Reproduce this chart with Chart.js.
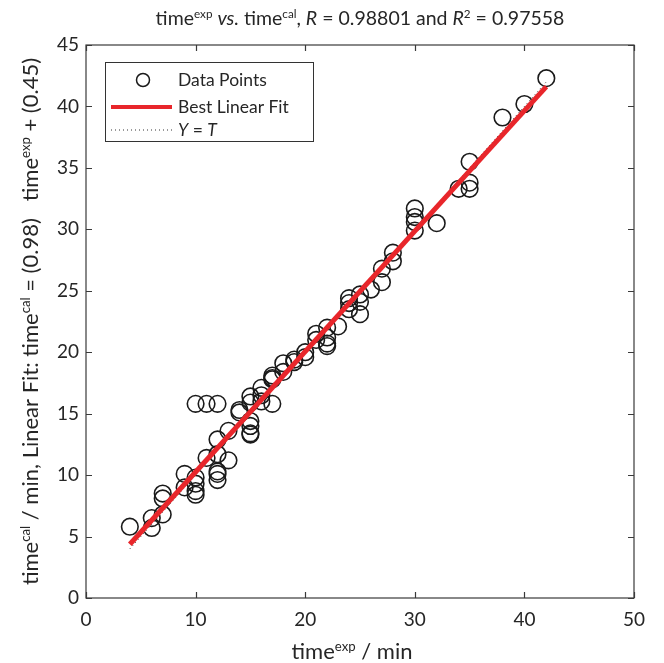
<!DOCTYPE html>
<html>
<head>
<meta charset="utf-8">
<script src="https://cdn.jsdelivr.net/npm/chart.js@4/dist/chart.umd.min.js"></script>
<style>
html,body{margin:0;padding:0;background:#fff;}
#wrap{width:664px;height:663px;}
</style>
</head>
<body>
<div id="wrap"><canvas id="c" width="664" height="663"></canvas></div>
<script>
// ---- data ----
const timeExp = [4, 6, 6, 7, 7, 7, 9, 9, 10, 10, 10, 10, 10,
  11, 11, 12, 12, 12, 12, 12, 12, 13, 13, 14, 14,
  15, 15, 15, 15, 15, 15, 16, 16, 16, 17, 17, 17, 17,
  18, 18, 19, 19, 20, 20, 21, 21, 22, 22, 22, 22, 23,
  24, 24, 24, 25, 25, 25, 26, 27, 27, 28, 28,
  30, 30, 30, 30, 32, 34, 35, 35, 35, 38, 40, 42];
const timeCal = [5.8, 6.5, 5.7, 6.8, 8.5, 8.1, 10.1, 9.0, 15.8, 9.8, 9.3, 8.7, 8.4,
  15.8, 11.4, 15.8, 12.9, 11.7, 10.3, 10.1, 9.6, 13.6, 11.2, 15.3, 15.1,
  16.4, 15.9, 14.4, 14.0, 13.4, 13.3, 17.1, 16.5, 16.0, 18.1, 17.9, 17.8, 15.8,
  19.1, 18.4, 19.4, 19.2, 20.0, 19.6, 21.5, 21.0, 22.0, 21.2, 20.7, 20.5, 22.1,
  24.4, 24.0, 23.5, 24.7, 24.1, 23.1, 25.1, 26.8, 25.7, 28.1, 27.4,
  31.7, 31.0, 30.6, 29.9, 30.5, 33.3, 35.5, 33.8, 33.3, 39.1, 40.2, 42.3];
const fitSlope = 0.98;
const fitIntercept = 0.45;
const R = 0.98801;
const R2 = 0.97558;
const xTicks = [0, 10, 20, 30, 40, 50];
const yTicks = [0, 5, 10, 15, 20, 25, 30, 35, 40, 45];
const legendLabels = ['Data Points', 'Best Linear Fit', 'Y = T'];

// ---- derived ----
const points = timeExp.map((x, i) => ({x: x, y: timeCal[i]}));
const xMin = Math.min(...timeExp), xMax = Math.max(...timeExp);
const fitLine = [xMin, xMax].map(x => ({x: x, y: fitSlope * x + fitIntercept}));
const idLine = [xMin, xMax].map(x => ({x: x, y: x}));

const FONT = 'Lato, "Open Sans", sans-serif';
const TXT = '#262626';
const RED = '#e8262b';

function runFont(r, size) {
  const s = r.sup ? size * 0.6 : size;
  return (r.it ? 'italic ' : '') + s + 'px ' + FONT;
}
function runsWidth(ctx, runs, size) {
  let w = 0;
  runs.forEach(r => { ctx.font = runFont(r, size); w += ctx.measureText(r.t).width; });
  return w;
}
function drawRuns(ctx, runs, x, y, size, align) {
  const w = runsWidth(ctx, runs, size);
  let cx = align === 'center' ? x - w / 2 : x;
  ctx.textBaseline = 'alphabetic';
  ctx.textAlign = 'left';
  runs.forEach(r => {
    ctx.font = runFont(r, size);
    ctx.fillText(r.t, cx, r.sup ? y - size * 0.38 : y);
    cx += ctx.measureText(r.t).width;
  });
}

const decor = {
  id: 'decor',
  afterDatasetsDraw(chart) {
    const ctx = chart.ctx;
    const a = chart.chartArea;
    const xs = chart.scales.x, ys = chart.scales.y;
    ctx.save();
    // frame
    ctx.strokeStyle = '#3a3a3a';
    ctx.lineWidth = 1.2;
    ctx.strokeRect(a.left, a.top, a.right - a.left, a.bottom - a.top);
    // inward ticks
    const tl = 6;
    ctx.beginPath();
    xTicks.forEach(v => {
      const px = Math.round(xs.getPixelForValue(v)) + 0.5;
      ctx.moveTo(px, a.bottom); ctx.lineTo(px, a.bottom - tl);
      ctx.moveTo(px, a.top); ctx.lineTo(px, a.top + tl);
    });
    yTicks.forEach(v => {
      const py = Math.round(ys.getPixelForValue(v)) + 0.5;
      ctx.moveTo(a.left, py); ctx.lineTo(a.left + tl, py);
      ctx.moveTo(a.right, py); ctx.lineTo(a.right - tl, py);
    });
    ctx.stroke();

    // legend
    const lx = a.left + 19, ly = a.top + 17, lw = 208, lh = 79;
    ctx.fillStyle = '#fff';
    ctx.fillRect(lx, ly, lw, lh);
    ctx.strokeStyle = '#333';
    ctx.lineWidth = 1;
    ctx.strokeRect(lx + 0.5, ly + 0.5, lw, lh);
    const rows = [ly + 18, ly + 45, ly + 68];
    // marker
    ctx.beginPath();
    ctx.arc(lx + 38, rows[0], 6.5, 0, Math.PI * 2);
    ctx.strokeStyle = '#1a1a1a'; ctx.lineWidth = 1.5; ctx.stroke();
    // red line
    ctx.beginPath();
    ctx.moveTo(lx + 6, rows[1]); ctx.lineTo(lx + 67, rows[1]);
    ctx.strokeStyle = RED; ctx.lineWidth = 4; ctx.stroke();
    // dotted
    ctx.beginPath();
    ctx.setLineDash([1, 3]);
    ctx.moveTo(lx + 6, rows[2]); ctx.lineTo(lx + 67, rows[2]);
    ctx.strokeStyle = '#333'; ctx.lineWidth = 1; ctx.stroke();
    ctx.setLineDash([]);
    ctx.fillStyle = TXT;
    const lf = 17.5;
    drawRuns(ctx, [{t: legendLabels[0]}], lx + 73, rows[0] + 6, lf, 'left');
    drawRuns(ctx, [{t: legendLabels[1]}], lx + 73, rows[1] + 6, lf, 'left');
    drawRuns(ctx, [{t: 'Y', it: true}, {t: ' = '}, {t: 'T', it: true}], lx + 73, rows[2] + 6, lf, 'left');

    // title
    const ts = 19.5;
    drawRuns(ctx, [
      {t: 'time'}, {t: 'exp', sup: true}, {t: ' '}, {t: 'vs.', it: true}, {t: ' time'}, {t: 'cal', sup: true},
      {t: ', '}, {t: 'R', it: true}, {t: ' = ' + R.toFixed(5) + ' and '}, {t: 'R', it: true}, {t: '2', sup: true},
      {t: ' = ' + R2.toFixed(5)}
    ], (a.left + a.right) / 2, 25, ts, 'center');

    // x title
    drawRuns(ctx, [{t: 'time'}, {t: 'exp', sup: true}, {t: ' / min'}], (a.left + a.right) / 2 - 8, 659, 22, 'center');

    // y title (rotated)
    ctx.save();
    ctx.translate(38, (a.top + a.bottom) / 2 - 0);
    ctx.rotate(-Math.PI / 2);
    drawRuns(ctx, [
      {t: 'time'}, {t: 'cal', sup: true}, {t: ' / min, Linear Fit: time'}, {t: 'cal', sup: true},
      {t: ' = (' + fitSlope.toFixed(2) + ')   time'}, {t: 'exp', sup: true},
      {t: ' + (' + fitIntercept.toFixed(2) + ')'}
    ], 0, 0, 22, 'center');
    ctx.restore();
    ctx.restore();
  }
};

new Chart(document.getElementById('c'), {
  type: 'scatter',
  data: {
    datasets: [
      {
        label: legendLabels[1], type: 'line', data: fitLine, order: 0,
        borderColor: RED, borderWidth: 5, pointRadius: 0, fill: false, tension: 0
      },
      {
        label: legendLabels[2], type: 'line', data: idLine, order: 1,
        borderColor: '#333', borderWidth: 1, borderDash: [1, 3], pointRadius: 0, fill: false
      },
      {
        label: legendLabels[0], data: points, order: 2,
        pointStyle: 'circle', pointRadius: 8.3, pointBorderWidth: 1.6,
        borderColor: '#1a1a1a', backgroundColor: 'rgba(0,0,0,0)', pointHoverRadius: 8.3
      }
    ]
  },
  options: {
    responsive: false,
    animation: false,
    devicePixelRatio: 1,
    layout: {padding: {left: 0, top: 45, right: 30, bottom: 0}},
    plugins: {legend: {display: false}, tooltip: {enabled: false}, title: {display: false}},
    scales: {
      x: {
        type: 'linear', min: 0, max: 50,
        afterBuildTicks: s => { s.ticks = xTicks.map(v => ({value: v})); },
        afterFit: s => { s.height = 65; },
        grid: {display: false, drawTicks: false},
        border: {display: false},
        ticks: {padding: 10, color: TXT, font: {family: FONT, size: 19}}
      },
      y: {
        type: 'linear', min: 0, max: 45,
        afterBuildTicks: s => { s.ticks = yTicks.map(v => ({value: v})); },
        afterFit: s => { s.width = 86; },
        grid: {display: false, drawTicks: false},
        border: {display: false},
        ticks: {padding: 7, color: TXT, font: {family: FONT, size: 19}}
      }
    }
  },
  plugins: [decor]
});
</script>
</body>
</html>
